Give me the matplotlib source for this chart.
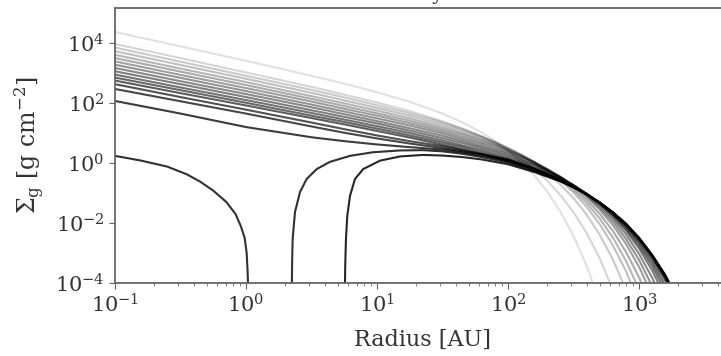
import numpy as np
import matplotlib
matplotlib.use("Agg")
import matplotlib.pyplot as plt
from matplotlib.ticker import NullLocator

plt.rcParams['font.family'] = 'DejaVu Serif'
plt.rcParams['mathtext.fontset'] = 'dejavuserif'

nan = np.nan

# log10 radius [AU] of the sampled profiles
log_r = [-1.0, -0.5, 0.0, 0.5, 0.75, 1.0, 1.25, 1.5, 1.65, 1.8, 1.9, 2.0, 2.1,
         2.2, 2.3, 2.4, 2.5, 2.6, 2.7, 2.8, 2.9, 3.0, 3.1, 3.2, 3.3]

# log10 gas surface density [g cm^-2], one list per snapshot (earliest first)
sig_00 = [4.37, 3.89, 3.41, 2.91, 2.65, 2.36, 2.04, 1.65, 1.36, 1.02, 0.74, 0.42, 0.04,
          -0.41, -0.96, -1.62, -2.43, -3.42, -4.65, nan, nan, nan, nan, nan, nan]
sig_01 = [3.97, 3.50, 3.02, 2.54, 2.28, 2.02, 1.73, 1.39, 1.15, 0.88, 0.66, 0.42, 0.13,
          -0.20, -0.59, -1.07, -1.64, -2.33, -3.18, -4.23, -5.52, nan, nan, nan, nan]
sig_02 = [3.85, 3.38, 2.91, 2.44, 2.19, 1.93, 1.66, 1.35, 1.14, 0.89, 0.71, 0.50, 0.26,
          -0.01, -0.34, -0.72, -1.17, -1.72, -2.39, -3.21, -4.22, -5.46, nan, nan, nan]
sig_03 = [3.73, 3.27, 2.81, 2.34, 2.09, 1.84, 1.58, 1.28, 1.08, 0.86, 0.69, 0.50, 0.29,
          0.04, -0.25, -0.58, -0.98, -1.46, -2.04, -2.74, -3.60, -4.66, nan, nan, nan]
sig_04 = [3.61, 3.15, 2.70, 2.23, 1.99, 1.75, 1.49, 1.20, 1.01, 0.80, 0.64, 0.46, 0.26,
          0.04, -0.23, -0.53, -0.90, -1.33, -1.85, -2.48, -3.26, -4.21, -5.38, nan, nan]
sig_05 = [3.50, 3.05, 2.60, 2.14, 1.90, 1.66, 1.41, 1.13, 0.95, 0.75, 0.60, 0.43, 0.24,
          0.03, -0.21, -0.49, -0.82, -1.22, -1.69, -2.26, -2.96, -3.81, -4.86, nan, nan]
sig_06 = [3.39, 2.94, 2.50, 2.05, 1.81, 1.58, 1.33, 1.06, 0.88, 0.69, 0.55, 0.39, 0.22,
          0.02, -0.20, -0.46, -0.77, -1.12, -1.55, -2.07, -2.69, -3.46, -4.40, nan, nan]
sig_07 = [3.28, 2.84, 2.40, 1.95, 1.72, 1.49, 1.25, 0.99, 0.81, 0.63, 0.49, 0.34, 0.18,
          -0.01, -0.22, -0.46, -0.75, -1.08, -1.48, -1.95, -2.53, -3.23, -4.10, -5.16, nan]
sig_08 = [3.17, 2.73, 2.30, 1.86, 1.63, 1.40, 1.16, 0.91, 0.74, 0.56, 0.43, 0.29, 0.13,
          -0.05, -0.24, -0.47, -0.74, -1.05, -1.41, -1.85, -2.38, -3.03, -3.82, -4.80, nan]
sig_09 = [3.06, 2.63, 2.20, 1.76, 1.54, 1.32, 1.08, 0.83, 0.67, 0.50, 0.37, 0.23, 0.08,
          -0.08, -0.27, -0.49, -0.73, -1.02, -1.36, -1.77, -2.26, -2.85, -3.58, -4.47, nan]
sig_10 = [2.95, 2.52, 2.10, 1.67, 1.45, 1.23, 1.00, 0.75, 0.59, 0.43, 0.30, 0.17, 0.03,
          -0.14, -0.31, -0.52, -0.75, -1.03, -1.35, -1.73, -2.19, -2.75, -3.43, -4.27, -5.30]
sig_11 = [2.85, 2.43, 2.01, 1.58, 1.37, 1.15, 0.92, 0.68, 0.53, 0.36, 0.24, 0.12, -0.03,
          -0.18, -0.35, -0.55, -0.77, -1.03, -1.34, -1.70, -2.13, -2.66, -3.30, -4.09, -5.05]
sig_12 = [2.75, 2.33, 1.92, 1.50, 1.29, 1.07, 0.85, 0.61, 0.46, 0.30, 0.18, 0.06, -0.08,
          -0.22, -0.39, -0.58, -0.79, -1.04, -1.33, -1.67, -2.08, -2.58, -3.18, -3.92, -4.82]
sig_13 = [2.63, 2.20, 1.78, 1.35, 1.13, 0.92, 0.73, 0.56, 0.43, 0.30, 0.21, 0.12, -0.02,
          -0.18, -0.37, -0.58, -0.79, -1.03, -1.32, -1.66, -2.06, -2.54, -3.12, -3.82, -4.70]
sig_14 = [2.47, 2.06, 1.65, 1.22, 1.01, 0.82, 0.65, 0.50, 0.39, 0.28, 0.19, 0.10, -0.04,
          -0.20, -0.38, -0.59, -0.80, -1.04, -1.32, -1.65, -2.04, -2.52, -3.10, -3.79, -4.65]
sig_15 = [2.07, 1.65, 1.20, 0.86, 0.73, 0.62, 0.53, 0.45, 0.36, 0.25, 0.16, 0.07, -0.07,
          -0.22, -0.40, -0.60, -0.80, -1.04, -1.32, -1.65, -2.03, -2.51, -3.08, -3.77, -4.62]

# gap opened: inner disc and outer disc of the same snapshot
log_r_inner = [-1.0, -0.8, -0.6, -0.45, -0.35, -0.25, -0.15, -0.08, -0.04, -0.01, 0.005, 0.012, 0.018]
sig_inner = [0.24, 0.08, -0.12, -0.38, -0.62, -0.92, -1.30, -1.70, -2.10, -2.50, -3.00, -3.60, -4.40]
log_r_gap = [0.349, 0.352, 0.356, 0.374, 0.412, 0.463, 0.54, 0.641, 0.794, 0.969, 1.176, 1.35, 1.5,
             1.65, 1.8, 2.0, 2.2, 2.4, 2.5, 2.6, 2.7, 2.8, 2.9, 3.0, 3.1, 3.2, 3.3]
sig_gap = [-4.4, -3.3, -2.53, -1.63, -0.97, -0.53, -0.2, 0.04, 0.24, 0.36, 0.42, 0.43, 0.39,
           0.31, 0.20, 0.02, -0.26, -0.60, -0.80, -1.04, -1.32, -1.65, -2.03, -2.50, -3.07, -3.75, -4.60]

# last snapshot, hole cleared out to ~6 AU
log_r_hole = [0.754, 0.758, 0.763, 0.773, 0.794, 0.832, 0.895, 1.023, 1.176, 1.35, 1.5, 1.65, 1.8,
              2.0, 2.2, 2.4, 2.5, 2.6, 2.7, 2.8, 2.9, 3.0, 3.1, 3.2, 3.3]
sig_hole = [-4.4, -3.3, -2.53, -1.76, -1.09, -0.53, -0.2, 0.08, 0.22, 0.27, 0.25, 0.20, 0.12,
            -0.04, -0.30, -0.61, -0.81, -1.04, -1.32, -1.64, -2.02, -2.49, -3.06, -3.73, -4.58]

full = [sig_00, sig_01, sig_02, sig_03, sig_04, sig_05, sig_06, sig_07, sig_08,
        sig_09, sig_10, sig_11, sig_12, sig_13, sig_14, sig_15]
curves = [(log_r, s, i) for i, s in enumerate(full)]
curves += [(log_r_inner, sig_inner, 16), (log_r_gap, sig_gap, 16), (log_r_hole, sig_hole, 17)]
n_snap = 18

fig = plt.figure(figsize=(7.21, 3.56), dpi=100)
ax = fig.add_axes([115 / 721, 73 / 356, 615.6 / 721, 275 / 356])

# later snapshots darker
for lr, ls, i in curves:
    ax.plot(10 ** np.array(lr), 10 ** np.array(ls), color='k',
            alpha=0.12 + 0.73 * i / (n_snap - 1), lw=1.5)

ax.set_xscale('log')
ax.set_yscale('log')
ax.set_xlim(0.1, 5000)
ax.set_ylim(1e-4, 10 ** 5.17)
ax.set_yticks([1e-4, 1e-2, 1e0, 1e2, 1e4])
ax.yaxis.set_minor_locator(NullLocator())

for sp in ax.spines.values():
    sp.set_color('0.4')
    sp.set_linewidth(1.3)
ax.tick_params(which='both', direction='out', color='0.4', labelcolor='0.2', labelsize=15)
ax.tick_params(which='major', length=4)
ax.tick_params(which='minor', length=2.5)

ax.set_xlabel('Radius [AU]', fontsize=16, color='0.2')
ax.set_ylabel(r'$\Sigma_{\rm g}$ [g cm$^{-2}$]', fontsize=17, color='0.2')
ax.xaxis.set_label_coords(0.5, -0.165)
ax.yaxis.set_label_coords(-0.110, 0.5)

fig.text(435 / 721, 356.5 / 356, 'Gas density evolution', ha='center', va='baseline',
         fontsize=14, color='0.2')

fig.savefig('out.png', dpi=100)
